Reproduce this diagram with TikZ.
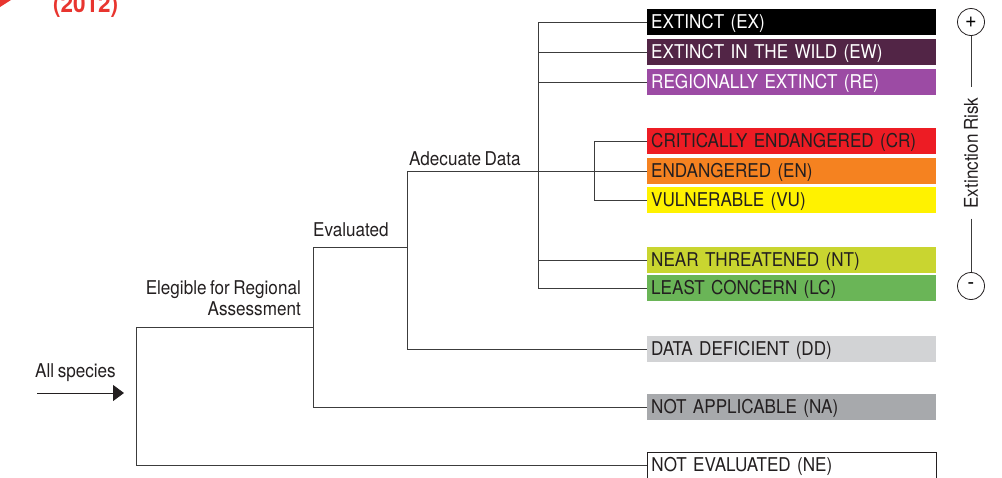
\documentclass[tikz,border=0pt]{standalone}
\usepackage{fontspec}
\setmainfont{TeX Gyre Heros}[FakeStretch=0.9,WordSpace=0.75]
\usetikzlibrary{arrows.meta,positioning,calc}
\definecolor{ink}{HTML}{231F20}
\definecolor{wire}{HTML}{3C3C3C}
\definecolor{yearred}{HTML}{E8352F}
\definecolor{cEX}{HTML}{000000}
\definecolor{cEW}{HTML}{522546}
\definecolor{cRE}{HTML}{9C4BA4}
\definecolor{cCR}{HTML}{ED1C24}
\definecolor{cEN}{HTML}{F58220}
\definecolor{cVU}{HTML}{FFF200}
\definecolor{cNT}{HTML}{C9D530}
\definecolor{cLC}{HTML}{6AB557}
\definecolor{cDD}{HTML}{D2D3D5}
\definecolor{cNA}{HTML}{A7A9AC}
\tikzset{
  cat/.style={anchor=west,minimum height=26pt,text width=281pt,inner xsep=4pt,inner ysep=0pt,
    text height=13.5pt,text depth=0pt,align=left,font=\fontsize{19}{21}\selectfont,text=ink},
  catw/.style={cat,text=white},
  lbl/.style={font=\fontsize{19}{21}\selectfont,text=ink,inner sep=0pt},
  ln/.style={draw=wire,line width=1pt},
  ar/.style={-{Triangle[length=11pt,width=16pt]},draw=ink,line width=1pt},
  pole/.style={circle,draw=ink,line width=.8pt,minimum size=27pt,inner sep=0pt,font=\fontsize{22}{22}\selectfont},
}
\begin{document}
\begin{tikzpicture}[x=1pt,y=-1pt]
  \useasboundingbox (0,0) rectangle (1002,477);
  % ── year tag (cut off) ──
  \fill[yearred] (0,0) -- (11,0) -- (0,7) -- cycle;
  \node[anchor=base west,inner sep=0pt,text=yearred,font=\fontsize{25}{28}\selectfont\bfseries] (yr) at (53,12) {(2012)};
  % ── categories ──
  \node[catw,fill=cEX] (ex) at (647,22) {EXTINCT (EX)};
  \node[catw,fill=cEW] (ew) at (647,52) {EXTINCT IN THE WILD (EW)};
  \node[catw,fill=cRE] (re) at (647,82) {REGIONALLY EXTINCT (RE)};
  \node[cat,fill=cCR] (cr) at (647,141) {CRITICALLY ENDANGERED (CR)};
  \node[cat,fill=cEN] (en) at (647,171) {ENDANGERED (EN)};
  \node[cat,fill=cVU] (vu) at (647,200) {VULNERABLE (VU)};
  \node[cat,fill=cNT] (nt) at (647,260) {NEAR THREATENED (NT)};
  \node[cat,fill=cLC] (lc) at (647,288) {LEAST CONCERN (LC)};
  \node[cat,fill=cDD] (dd) at (647,349) {DATA DEFICIENT (DD)};
  \node[cat,fill=cNA] (na) at (647,407) {NOT APPLICABLE (NA)};
  \node[cat,draw=ink,line width=.8pt,fill=white] (ne) at (647,465) {NOT EVALUATED (NE)};
  % ── branch labels ──
  \node[lbl,anchor=south west] (adq) at (409,166) {Adecuate Data};
  \node[lbl,anchor=south west] (evl) at (313,237) {Evaluated};
  \node[lbl,anchor=south east,align=right] (elg) at (301,316) {Elegible for Regional\\Assessment};
  \node[lbl,anchor=south west] (all) at (35,382) {All species};
  % ── tree ──
  \coordinate (r0) at (136,327);
  \coordinate (r1) at (313,247);
  \coordinate (r2) at (407,171);
  \coordinate (r3) at (538,288);
  \coordinate (r4) at (594,200);
  \coordinate (a0) at (37,393);
  \coordinate (a1) at (124,393);
  \draw[ar] (a0) -- (a1);
  \draw[ln] (r0 -| r1) -- (r0) |- (ne.west);
  \draw[ln] (r1 -| r2) -- (r1) |- (na.west);
  \draw[ln] (en.west) -- (r2) |- (dd.west);
  \draw[ln] (ex.west) -| (r3) -- (lc.west);
  \foreach \n in {ew,re,nt} \draw[ln] (\n.west) -- (\n.west -| r3);
  \draw[ln] (cr.west) -| (r4) -- (vu.west);
  % ── risk scale ──
  \node[pole] (plus) at (971,22) {+};
  \node[pole] (minus) at (971,286) {-};
  \node[lbl,rotate=90,inner xsep=10pt] (risk) at (971,153) {Extinction Risk};
  \draw[ln] (plus) -- (risk) -- (minus);
\end{tikzpicture}
\end{document}
